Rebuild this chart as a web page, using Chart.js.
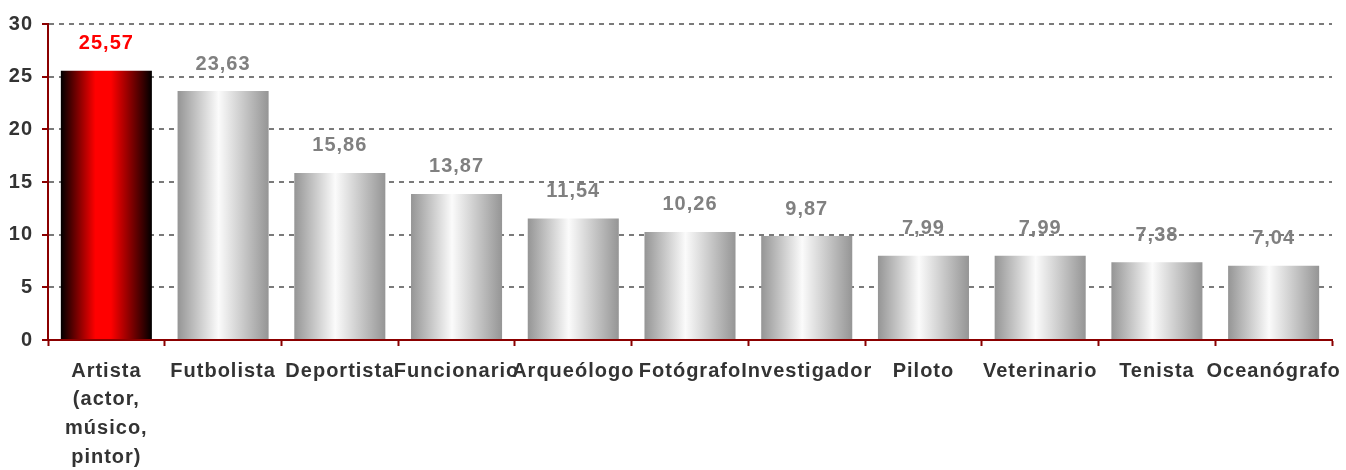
<!DOCTYPE html>
<html>
<head>
<meta charset="utf-8">
<script src="https://cdn.jsdelivr.net/npm/chart.js@4/dist/chart.umd.min.js"></script>
<style>
  html, body { margin: 0; padding: 0; background: #ffffff; }
  #wrap { width: 1346px; height: 470px; position: relative; }
</style>
</head>
<body>
<div id="wrap"><canvas id="c"></canvas></div>
<script>
const categories = [
  ['Artista', '(actor,', 'músico,', 'pintor)'],
  'Futbolista', 'Deportista', 'Funcionario', 'Arqueólogo', 'Fotógrafo',
  'Investigador', 'Piloto', 'Veterinario', 'Tenista', 'Oceanógrafo'
];
const values = [25.57, 23.63, 15.86, 13.87, 11.54, 10.26, 9.87, 7.99, 7.99, 7.38, 7.04];
const yTicks = [0, 5, 10, 15, 20, 25, 30];

const AXIS = '#8b0000';
const FONT = "'Liberation Sans', Arial, sans-serif";
const BAR_PCT = 0.78;

function barGradient(c) {
  const chart = c.chart;
  const xs = chart.scales && chart.scales.x;
  if (!chart.chartArea || !xs) return '#aaaaaa';
  const cx = xs.getPixelForValue(c.dataIndex);
  const w = (xs.width / categories.length) * BAR_PCT;
  const g = chart.ctx.createLinearGradient(cx - w / 2, 0, cx + w / 2, 0);
  if (c.dataIndex === 0) {
    g.addColorStop(0, '#000000');
    g.addColorStop(0.38, '#ff0000');
    g.addColorStop(0.55, '#ff0000');
    g.addColorStop(1, '#000000');
  } else {
    g.addColorStop(0, '#959595');
    g.addColorStop(0.45, '#fbfbfb');
    g.addColorStop(1, '#959595');
  }
  return g;
}

const spacingPlugin = {
  id: 'spacing',
  beforeLayout(chart) { chart.ctx.letterSpacing = '1px'; },
  beforeDraw(chart) { chart.ctx.letterSpacing = '1px'; }
};

const valueLabels = {
  id: 'valueLabels',
  afterDatasetsDraw(chart) {
    const ctx = chart.ctx;
    const meta = chart.getDatasetMeta(0);
    ctx.save();
    ctx.letterSpacing = '1px';
    ctx.font = 'bold 20px ' + FONT;
    ctx.textAlign = 'center';
    ctx.textBaseline = 'middle';
    meta.data.forEach((bar, i) => {
      ctx.fillStyle = i === 0 ? '#ff0000' : '#808080';
      ctx.fillText(values[i].toFixed(2).replace('.', ','), bar.x, bar.y - 27);
    });
    ctx.restore();
  }
};

new Chart(document.getElementById('c'), {
  type: 'bar',
  data: {
    labels: categories,
    datasets: [{
      data: values,
      backgroundColor: barGradient,
      borderWidth: 0,
      barPercentage: BAR_PCT,
      categoryPercentage: 1
    }]
  },
  options: {
    responsive: true,
    maintainAspectRatio: false,
    animation: false,
    layout: { padding: { top: 24, right: 14, left: 0, bottom: 0 } },
    plugins: { legend: { display: false }, tooltip: { enabled: false } },
    scales: {
      x: {
        offset: true,
        grid: {
          drawOnChartArea: false,
          offset: true,
          tickColor: AXIS,
          tickLength: 6,
          tickWidth: 2
        },
        border: { color: AXIS, width: 2 },
        ticks: {
          autoSkip: false,
          maxRotation: 0,
          minRotation: 0,
          padding: 11,
          color: '#333333',
          font: { family: FONT, size: 20, weight: 'bold', lineHeight: 1.43 }
        },
        afterFit(scale) {
          scale.height = 130;
          scale.paddingLeft = 0;
          scale.paddingRight = 0;
        }
      },
      y: {
        min: 0,
        max: 30,
        afterBuildTicks(scale) { scale.ticks = yTicks.map(v => ({ value: v })); },
        grid: {
          color: '#7a7a7a',
          lineWidth: 2,
          tickColor: AXIS,
          tickLength: 6,
          tickWidth: 2,
          tickBorderDash: []
        },
        border: { color: AXIS, width: 2, dash: [5, 5] },
        ticks: {
          padding: 9,
          color: '#333333',
          font: { family: FONT, size: 20, weight: 'bold' }
        },
        afterFit(scale) {
          scale.width = 48;
          scale.paddingTop = 0;
          scale.paddingBottom = 0;
        }
      }
    }
  },
  plugins: [spacingPlugin, valueLabels]
});
</script>
</body>
</html>
